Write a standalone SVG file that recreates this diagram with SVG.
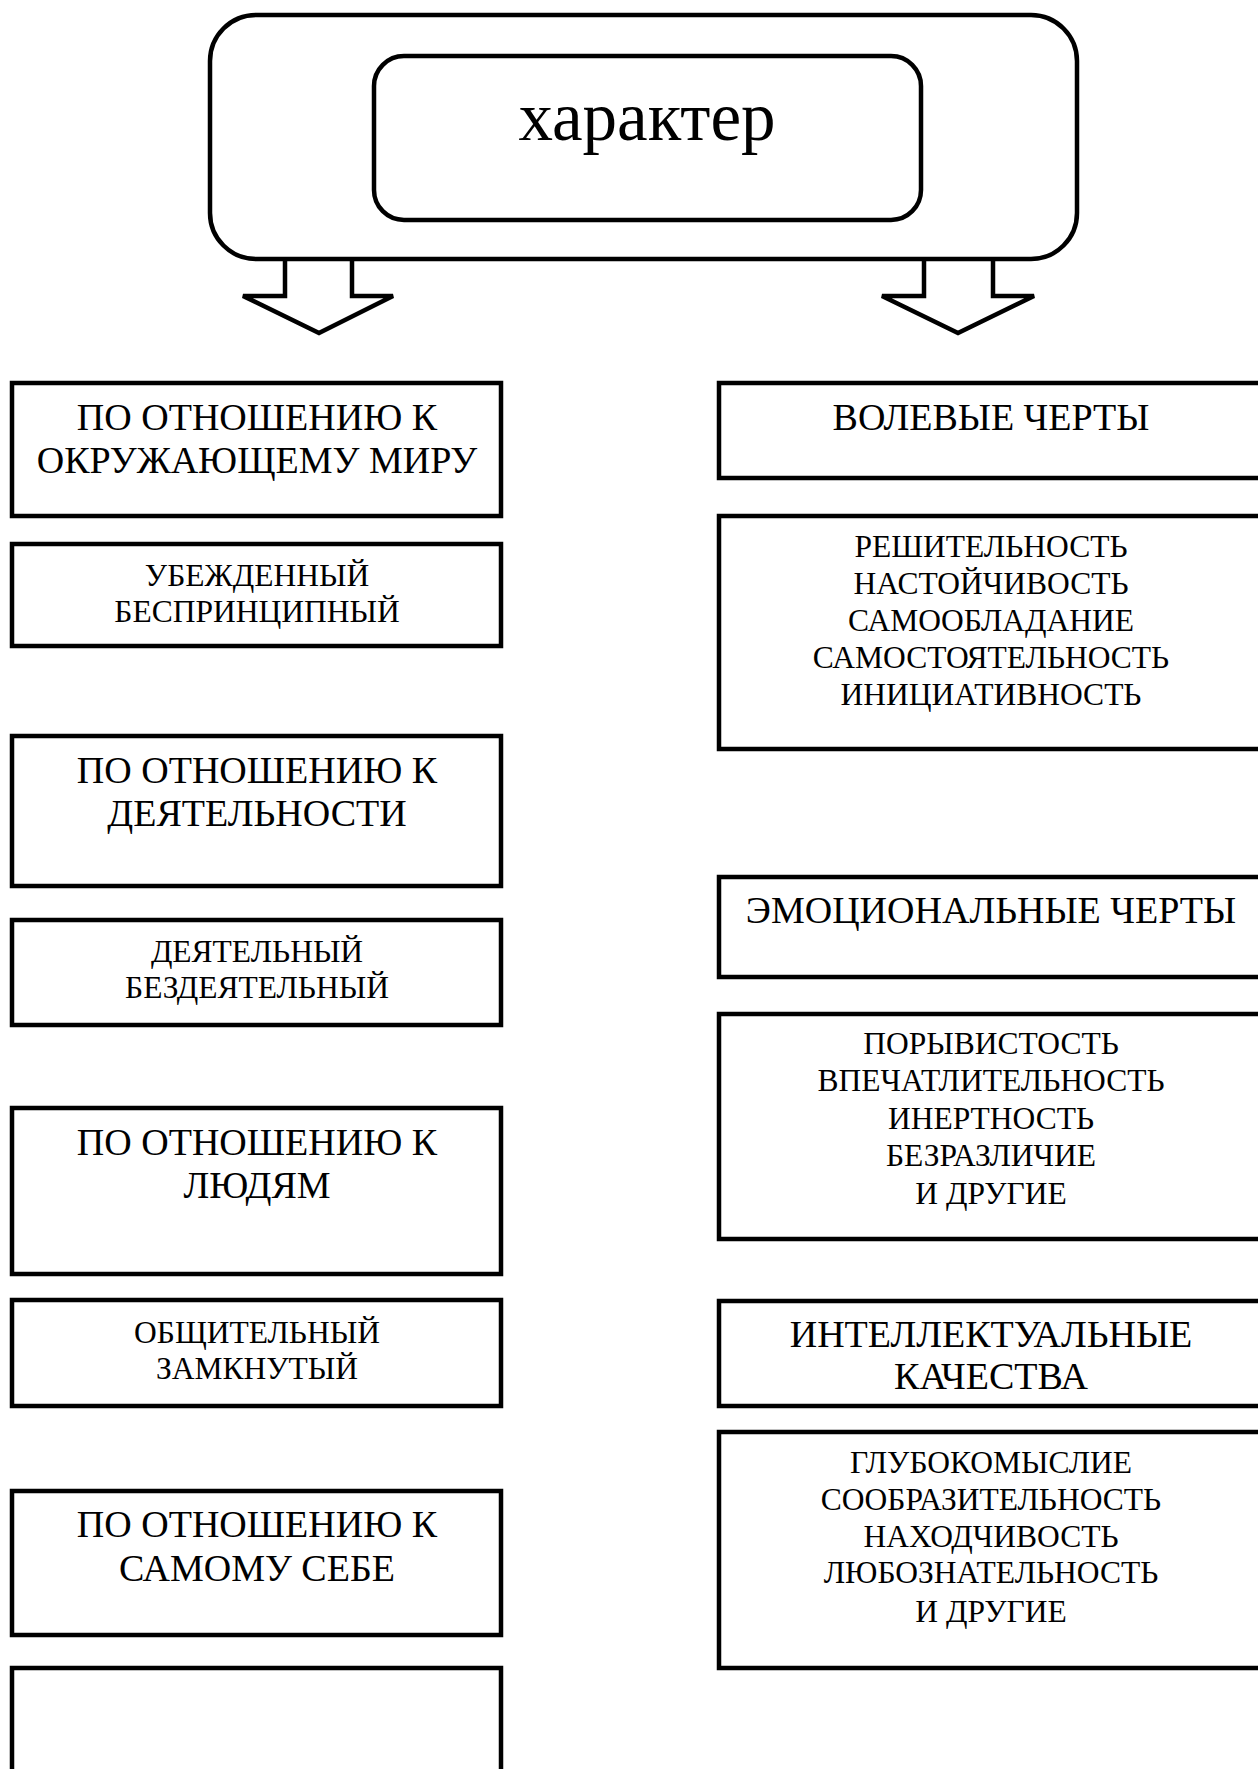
<svg xmlns="http://www.w3.org/2000/svg" width="1258" height="1769" viewBox="0 0 1258 1769">
<style>
.box{fill:#fff;stroke:#000;stroke-width:4.5}
.rbox{fill:#fff;stroke:#000;stroke-width:4.5}
.arr{fill:#fff;stroke:#000;stroke-width:4.5;stroke-linejoin:miter}
text{font-family:"Liberation Serif","Times New Roman",serif;fill:#000;text-anchor:middle}
.big{font-size:38px}
.sm{font-size:31.5px}
.title{font-size:69px}
</style>
<rect width="1258" height="1769" fill="#fff"/>
<g id="connectors">
<path class="arr" d="M285,257 V296 H243 L319,333 L393,296 H352 V257"/>
<path class="arr" d="M924,257 V296 H882 L958,333 L1034,296 H993 V257"/>
</g>
<g id="character">
<rect class="rbox" x="210" y="15" width="867" height="244" rx="46" ry="46"/>
<rect class="rbox" x="374" y="56" width="547" height="164" rx="30" ry="30"/>
<text class="title" x="647" y="140">характер</text>
</g>
<g id="left-world">
<rect class="box" x="12" y="383" width="489" height="133"/>
<text class="big" x="257" y="430">ПО ОТНОШЕНИЮ К</text>
<text class="big" x="257" y="473">ОКРУЖАЮЩЕМУ МИРУ</text>
</g>
<g id="left-world-traits">
<rect class="box" x="12" y="544" width="489" height="102"/>
<text class="sm" x="257" y="586">УБЕЖДЕННЫЙ</text>
<text class="sm" x="257" y="622">БЕСПРИНЦИПНЫЙ</text>
</g>
<g id="left-activity">
<rect class="box" x="12" y="736" width="489" height="150"/>
<text class="big" x="257" y="783">ПО ОТНОШЕНИЮ К</text>
<text class="big" x="257" y="826">ДЕЯТЕЛЬНОСТИ</text>
</g>
<g id="left-activity-traits">
<rect class="box" x="12" y="920" width="489" height="105"/>
<text class="sm" x="257" y="962">ДЕЯТЕЛЬНЫЙ</text>
<text class="sm" x="257" y="998">БЕЗДЕЯТЕЛЬНЫЙ</text>
</g>
<g id="left-people">
<rect class="box" x="12" y="1108" width="489" height="166"/>
<text class="big" x="257" y="1155">ПО ОТНОШЕНИЮ К</text>
<text class="big" x="257" y="1198">ЛЮДЯМ</text>
</g>
<g id="left-people-traits">
<rect class="box" x="12" y="1300" width="489" height="106"/>
<text class="sm" x="257" y="1343">ОБЩИТЕЛЬНЫЙ</text>
<text class="sm" x="257" y="1379">ЗАМКНУТЫЙ</text>
</g>
<g id="left-self">
<rect class="box" x="12" y="1491" width="489" height="144"/>
<text class="big" x="257" y="1537">ПО ОТНОШЕНИЮ К</text>
<text class="big" x="257" y="1581">САМОМУ СЕБЕ</text>
</g>
<g id="left-self-traits">
<rect class="box" x="12" y="1668" width="489" height="130"/>
</g>
<g id="right-volitional">
<rect class="box" x="719" y="383" width="543" height="95"/>
<text class="big" x="991" y="430">ВОЛЕВЫЕ ЧЕРТЫ</text>
</g>
<g id="right-volitional-traits">
<rect class="box" x="719" y="516" width="543" height="233"/>
<text class="sm" x="991" y="557">РЕШИТЕЛЬНОСТЬ</text>
<text class="sm" x="991" y="594">НАСТОЙЧИВОСТЬ</text>
<text class="sm" x="991" y="631">САМООБЛАДАНИЕ</text>
<text class="sm" x="991" y="668">САМОСТОЯТЕЛЬНОСТЬ</text>
<text class="sm" x="991" y="705">ИНИЦИАТИВНОСТЬ</text>
</g>
<g id="right-emotional">
<rect class="box" x="719" y="877" width="543" height="100"/>
<text class="big" x="991" y="923">ЭМОЦИОНАЛЬНЫЕ ЧЕРТЫ</text>
</g>
<g id="right-emotional-traits">
<rect class="box" x="719" y="1014" width="543" height="225"/>
<text class="sm" x="991" y="1054">ПОРЫВИСТОСТЬ</text>
<text class="sm" x="991" y="1091">ВПЕЧАТЛИТЕЛЬНОСТЬ</text>
<text class="sm" x="991" y="1129">ИНЕРТНОСТЬ</text>
<text class="sm" x="991" y="1166">БЕЗРАЗЛИЧИЕ</text>
<text class="sm" x="991" y="1204">И ДРУГИЕ</text>
</g>
<g id="right-intellectual">
<rect class="box" x="719" y="1301" width="543" height="105"/>
<text class="big" x="991" y="1347">ИНТЕЛЛЕКТУАЛЬНЫЕ</text>
<text class="big" x="991" y="1389">КАЧЕСТВА</text>
</g>
<g id="right-intellectual-traits">
<rect class="box" x="719" y="1432" width="543" height="236"/>
<text class="sm" x="991" y="1473">ГЛУБОКОМЫСЛИЕ</text>
<text class="sm" x="991" y="1510">СООБРАЗИТЕЛЬНОСТЬ</text>
<text class="sm" x="991" y="1547">НАХОДЧИВОСТЬ</text>
<text class="sm" x="991" y="1583">ЛЮБОЗНАТЕЛЬНОСТЬ</text>
<text class="sm" x="991" y="1622">И ДРУГИЕ</text>
</g>
</svg>
